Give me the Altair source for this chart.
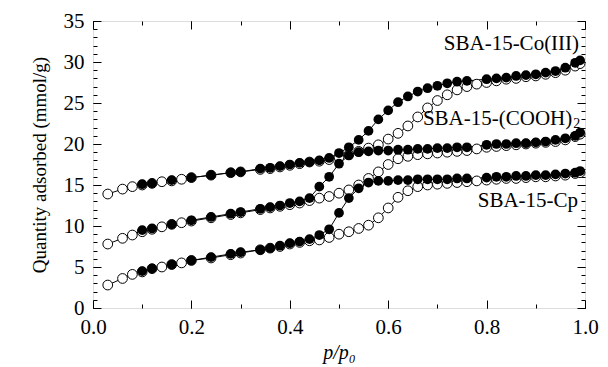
import altair as alt
import pandas as pd

# relative pressure grids
ads_x = [0.03, 0.06, 0.08, 0.10, 0.12, 0.14, 0.16, 0.18, 0.20, 0.24, 0.28, 0.30,
         0.34, 0.36, 0.38, 0.40, 0.42, 0.44, 0.46, 0.48, 0.50, 0.52, 0.54, 0.56,
         0.58, 0.60, 0.62, 0.64, 0.66, 0.68, 0.70, 0.72, 0.74, 0.76, 0.78, 0.80,
         0.82, 0.84, 0.86, 0.88, 0.90, 0.92, 0.94, 0.96, 0.98, 0.99]
des_x = [0.10, 0.12, 0.16, 0.20, 0.24, 0.28, 0.30,
         0.34, 0.36, 0.38, 0.40, 0.42, 0.44, 0.46, 0.48, 0.50, 0.52, 0.54, 0.56,
         0.58, 0.60, 0.62, 0.64, 0.66, 0.68, 0.70, 0.72, 0.74, 0.76,
         0.80, 0.82, 0.84, 0.86, 0.88, 0.90, 0.92, 0.94, 0.96, 0.98, 0.99]

# SBA-15-Co(III)
co_ads = [13.9, 14.5, 14.8, 15.0, 15.2, 15.4, 15.5, 15.7, 15.9, 16.2, 16.5, 16.6,
          16.9, 17.0, 17.2, 17.4, 17.6, 17.8, 17.9, 18.1, 18.4, 18.7, 19.1, 19.5,
          19.9, 20.6, 21.3, 22.2, 23.3, 24.4, 25.3, 26.0, 26.6, 27.0, 27.3, 27.5,
          27.7, 27.9, 28.0, 28.2, 28.3, 28.5, 28.7, 29.0, 29.5, 29.8]
co_des = [15.1, 15.2, 15.6, 15.9, 16.2, 16.5, 16.6,
          17.0, 17.1, 17.3, 17.5, 17.7, 17.8, 18.0, 18.3, 18.9, 19.6, 20.5, 21.6,
          23.0, 24.1, 25.1, 25.8, 26.4, 26.8, 27.1, 27.4, 27.6, 27.7,
          27.9, 28.0, 28.1, 28.3, 28.4, 28.5, 28.7, 28.9, 29.3, 29.9, 30.2]

# SBA-15-(COOH)2
cooh_ads = [7.8, 8.5, 8.9, 9.3, 9.6, 9.9, 10.2, 10.4, 10.6, 11.0, 11.4, 11.6,
            12.0, 12.2, 12.4, 12.6, 12.8, 13.1, 13.4, 13.6, 14.0, 14.4, 15.0, 15.8,
            16.6, 17.5, 18.2, 18.5, 18.7, 18.8, 18.9, 19.0, 19.1, 19.2, 19.4, 19.6,
            19.7, 19.8, 19.9, 20.0, 20.1, 20.2, 20.3, 20.5, 20.9, 21.2]
cooh_des = [9.5, 9.7, 10.2, 10.7, 11.1, 11.5, 11.7,
            12.1, 12.3, 12.5, 12.8, 13.0, 13.4, 14.8, 16.0, 17.6, 18.6, 19.0, 19.1,
            19.2, 19.2, 19.3, 19.3, 19.4, 19.4, 19.5, 19.5, 19.6, 19.6,
            19.9, 20.0, 20.0, 20.1, 20.1, 20.2, 20.3, 20.5, 20.7, 21.0, 21.4]

# SBA-15-Cp
cp_ads = [2.8, 3.6, 4.1, 4.4, 4.8, 5.0, 5.3, 5.5, 5.8, 6.1, 6.5, 6.7,
          7.1, 7.3, 7.5, 7.8, 8.0, 8.2, 8.3, 8.6, 9.0, 9.3, 9.7, 10.1,
          11.0, 12.2, 13.5, 14.3, 14.8, 15.0, 15.1, 15.2, 15.3, 15.4, 15.5, 15.6,
          15.7, 15.8, 15.8, 15.9, 16.0, 16.0, 16.1, 16.2, 16.4, 16.5]
cp_des = [4.5, 4.8, 5.3, 5.8, 6.2, 6.6, 6.8,
          7.1, 7.3, 7.6, 7.9, 8.1, 8.4, 8.9, 9.6, 11.6, 13.4, 14.6, 15.3,
          15.5, 15.5, 15.6, 15.6, 15.7, 15.7, 15.7, 15.7, 15.8, 15.8,
          15.9, 16.0, 16.0, 16.1, 16.1, 16.2, 16.2, 16.3, 16.4, 16.5, 16.7]

label_text = ["SBA-15-Co(III)", "SBA-15-(COOH)", "SBA-15-Cp"]
label_x = [0.988, 0.974, 0.986]
label_y = [31.5, 22.3, 12.3]
sub_text = ["2"]
sub_x = [0.976]
sub_y = [21.9]

x_major = [0.0, 0.2, 0.4, 0.6, 0.8, 1.0]
x_minor = [i / 10 for i in range(11)]
y_major = [0, 5, 10, 15, 20, 25, 30, 35]
y_minor = list(range(36))

rows = []
for name, xs, ys, branch in [
    ("Co", ads_x, co_ads, "ads"), ("Co", des_x, co_des, "des"),
    ("COOH", ads_x, cooh_ads, "ads"), ("COOH", des_x, cooh_des, "des"),
    ("Cp", ads_x, cp_ads, "ads"), ("Cp", des_x, cp_des, "des"),
]:
    for xv, yv in zip(xs, ys):
        rows.append({"x": xv, "y": yv, "series": name + "-" + branch, "branch": branch})
df = pd.DataFrame(rows)
lab = pd.DataFrame({"t": label_text, "x": label_x, "y": label_y})
sub = pd.DataFrame({"t": sub_text, "x": sub_x, "y": sub_y})

W, H = 492, 287
FONT = "Liberation Serif, Times New Roman, serif"
xs = alt.Scale(domain=[0, 1], nice=False)
ys = alt.Scale(domain=[0, 35], nice=False)


def tick_axis(orient, values, size, offset):
    return alt.Axis(orient=orient, values=values, tickSize=size, offset=offset,
                    labels=False, domain=False, title=None, grid=False,
                    tickColor="black", tickWidth=1)


main_x = alt.Axis(orient="bottom", values=x_major, format=".1f", tickSize=0,
                  labelPadding=8, domain=False, grid=False, title="p/p\u2080",
                  titleFontStyle="italic", titleFontWeight="normal",
                  titleFont=FONT, titleFontSize=20, titlePadding=5,
                  labelFont=FONT, labelFontSize=21, labelColor="black",
                  titleColor="black", labelFlush=False)
main_y = alt.Axis(orient="left", values=y_major, tickSize=0, labelPadding=9,
                  domain=False, grid=False, title="Quantity adsorbed (mmol/g)",
                  titleFont=FONT, titleFontSize=19, titleFontWeight="normal",
                  titlePadding=14, labelFont=FONT, labelFontSize=21,
                  labelColor="black", titleColor="black", labelFlush=False)

lines = alt.Chart(df).mark_line(color="black", strokeWidth=1).encode(
    x=alt.X("x:Q", scale=xs, axis=main_x),
    y=alt.Y("y:Q", scale=ys, axis=main_y),
    detail="series:N",
    order="x:Q",
)

open_pts = alt.Chart(df[df.branch == "ads"]).mark_point(
    shape="circle", filled=True, fill="white", stroke="black",
    strokeWidth=1, size=95, opacity=1,
).encode(
    x=alt.X("x:Q", scale=xs, axis=tick_axis("top", x_major, 8, -H)),
    y=alt.Y("y:Q", scale=ys, axis=tick_axis("right", y_major, 8, -W)),
)

filled_pts = alt.Chart(df[df.branch == "des"]).mark_point(
    shape="circle", filled=True, color="black", size=95, opacity=1,
).encode(
    x=alt.X("x:Q", scale=xs, axis=tick_axis("top", x_minor, 4, -H)),
    y=alt.Y("y:Q", scale=ys, axis=tick_axis("right", y_minor, 4, -W)),
)

text1 = alt.Chart(lab).mark_text(
    font=FONT, fontSize=21, align="right", baseline="alphabetic", color="black"
).encode(
    x=alt.X("x:Q", scale=xs, axis=tick_axis("bottom", x_major, 8, -H)),
    y=alt.Y("y:Q", scale=ys, axis=tick_axis("left", y_major, 8, -W)),
    text="t:N",
)

text_sub = alt.Chart(sub).mark_text(
    font=FONT, fontSize=14, align="left", baseline="alphabetic", color="black"
).encode(
    x=alt.X("x:Q", scale=xs, axis=tick_axis("bottom", x_minor, 4, -H)),
    y=alt.Y("y:Q", scale=ys, axis=tick_axis("left", y_minor, 4, -W)),
    text="t:N",
)

chart = alt.layer(lines, open_pts, filled_pts, text1, text_sub).resolve_axis(
    x="independent", y="independent"
).properties(
    width=W, height=H,
    autosize=alt.AutoSizeParams(type="none"),
    padding={"left": 93, "top": 21, "right": 23, "bottom": 59},
).configure_view(
    stroke="black", strokeWidth=1.2
).configure(background="white")

chart.save("out.html", embed_options={"renderer": "svg", "actions": False})
